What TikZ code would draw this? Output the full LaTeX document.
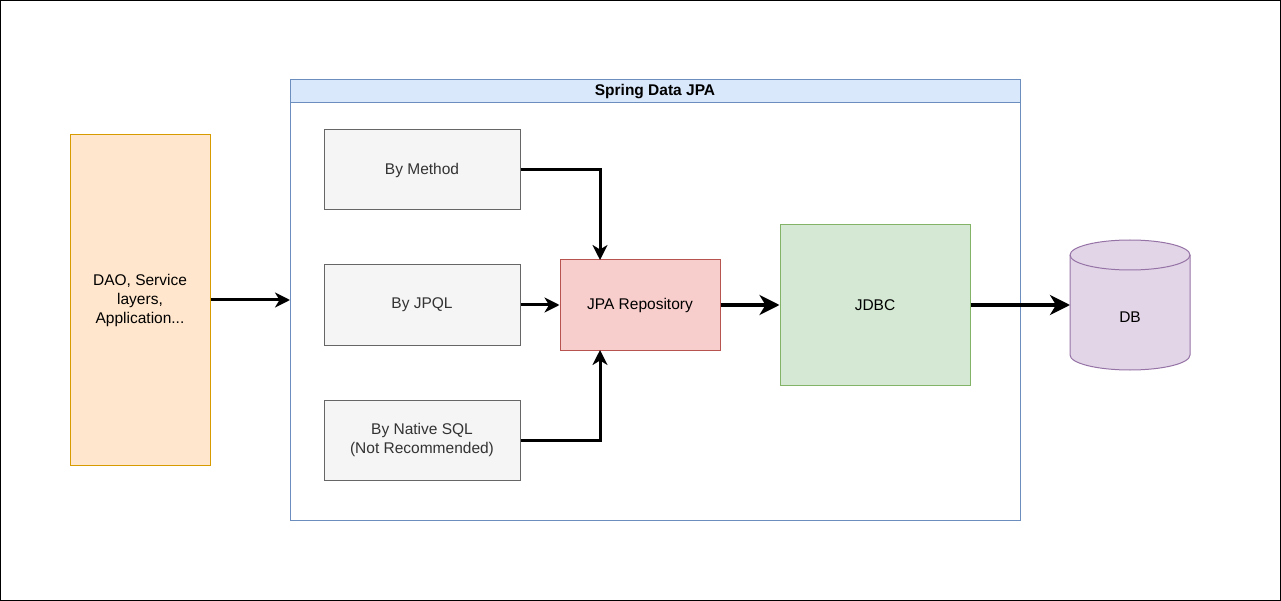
\documentclass[tikz,border=0pt]{standalone}
\usepackage{fontspec}
\setmainfont{Liberation Sans}
\usetikzlibrary{arrows.meta}
\definecolor{daoF}{HTML}{FFE6CC}\definecolor{daoS}{HTML}{D79B00}
\definecolor{blF}{HTML}{DAE8FC}\definecolor{blS}{HTML}{6C8EBF}
\definecolor{gyF}{HTML}{F5F5F5}\definecolor{gyS}{HTML}{666666}\definecolor{gyT}{HTML}{333333}
\definecolor{rdF}{HTML}{F8CECC}\definecolor{rdS}{HTML}{B85450}
\definecolor{grF}{HTML}{D5E8D4}\definecolor{grS}{HTML}{82B366}
\definecolor{puF}{HTML}{E1D5E7}\definecolor{puS}{HTML}{9673A6}
\tikzset{
  lbl/.style={font=\fontsize{15.5}{19}\selectfont},
  box/.style={draw, line width=1pt, inner sep=0pt, align=center, lbl},
  graybox/.style={box, fill=gyF, draw=gyS, text=gyT, minimum width=196pt, minimum height=80pt},
  conn/.style={line width=3pt, -{Stealth[length=15pt,width=15pt,inset=4.5pt]}},
  thickconn/.style={line width=4.5pt, -{Stealth[length=20pt,width=20pt,inset=6pt]}},
}
\begin{document}
\begin{tikzpicture}[x=1pt,y=-1pt]
\useasboundingbox (0,0) rectangle (1281,601);
\draw[line width=1pt] (0.5,0.5) rectangle (1280.5,600.5);
% container
\node[draw=blS, line width=1pt, minimum width=730pt, minimum height=440pt, inner sep=0pt] (cont) at (655,300) {};
\node[draw=blS, fill=blF, line width=1pt, minimum width=730pt, minimum height=23pt, inner sep=0pt, font=\bfseries\fontsize{15.5}{19}\selectfont] (title) at (655,91.5) {Spring Data JPA};
% DAO
\node[box, fill=daoF, draw=daoS, minimum width=140pt, minimum height=330pt] (dao) at (140,300) {DAO, Service\\layers,\\Application...};
% gray boxes
\node[graybox] (meth) at (422,170) {By Method};
\node[graybox] (jpql) at (422,305) {By JPQL};
\node[graybox] (nat) at (422,440) {By Native SQL\\(Not Recommended)};
% JPA repo
\node[box, fill=rdF, draw=rdS, minimum width=160pt, minimum height=90pt] (repo) at (640,305) {JPA Repository};
% JDBC
\node[box, fill=grF, draw=grS, minimum width=190pt, minimum height=160pt] (jdbc) at (875,305) {JDBC};
% DB cylinder
\draw[draw=puS, fill=puF, line width=1pt]
  (1070,255) -- (1070,355) arc[start angle=180, end angle=360, x radius=60, y radius=-15]
  -- (1190,255) arc[start angle=0, end angle=180, x radius=60, y radius=-15] -- cycle;
\draw[draw=puS, line width=1pt] (1070,255) arc[start angle=180, end angle=360, x radius=60, y radius=-15];
\node[lbl] (db) at (1130,317) {DB};
% connectors
\coordinate (contL) at (290,300);
\coordinate (repoT) at (600,260);
\coordinate (repoB) at (600,350);
\draw[conn] (dao.east |- contL) -- (contL);
\draw[conn] (meth.east) -| (repoT);
\draw[conn] (jpql.east) -- (repo.west);
\draw[conn] (nat.east) -| (repoB);
\draw[thickconn] (repo.east) -- (jdbc.west);
\coordinate (dbL) at (1070,305);
\draw[thickconn] (jdbc.east) -- (dbL);
\end{tikzpicture}
\end{document}
